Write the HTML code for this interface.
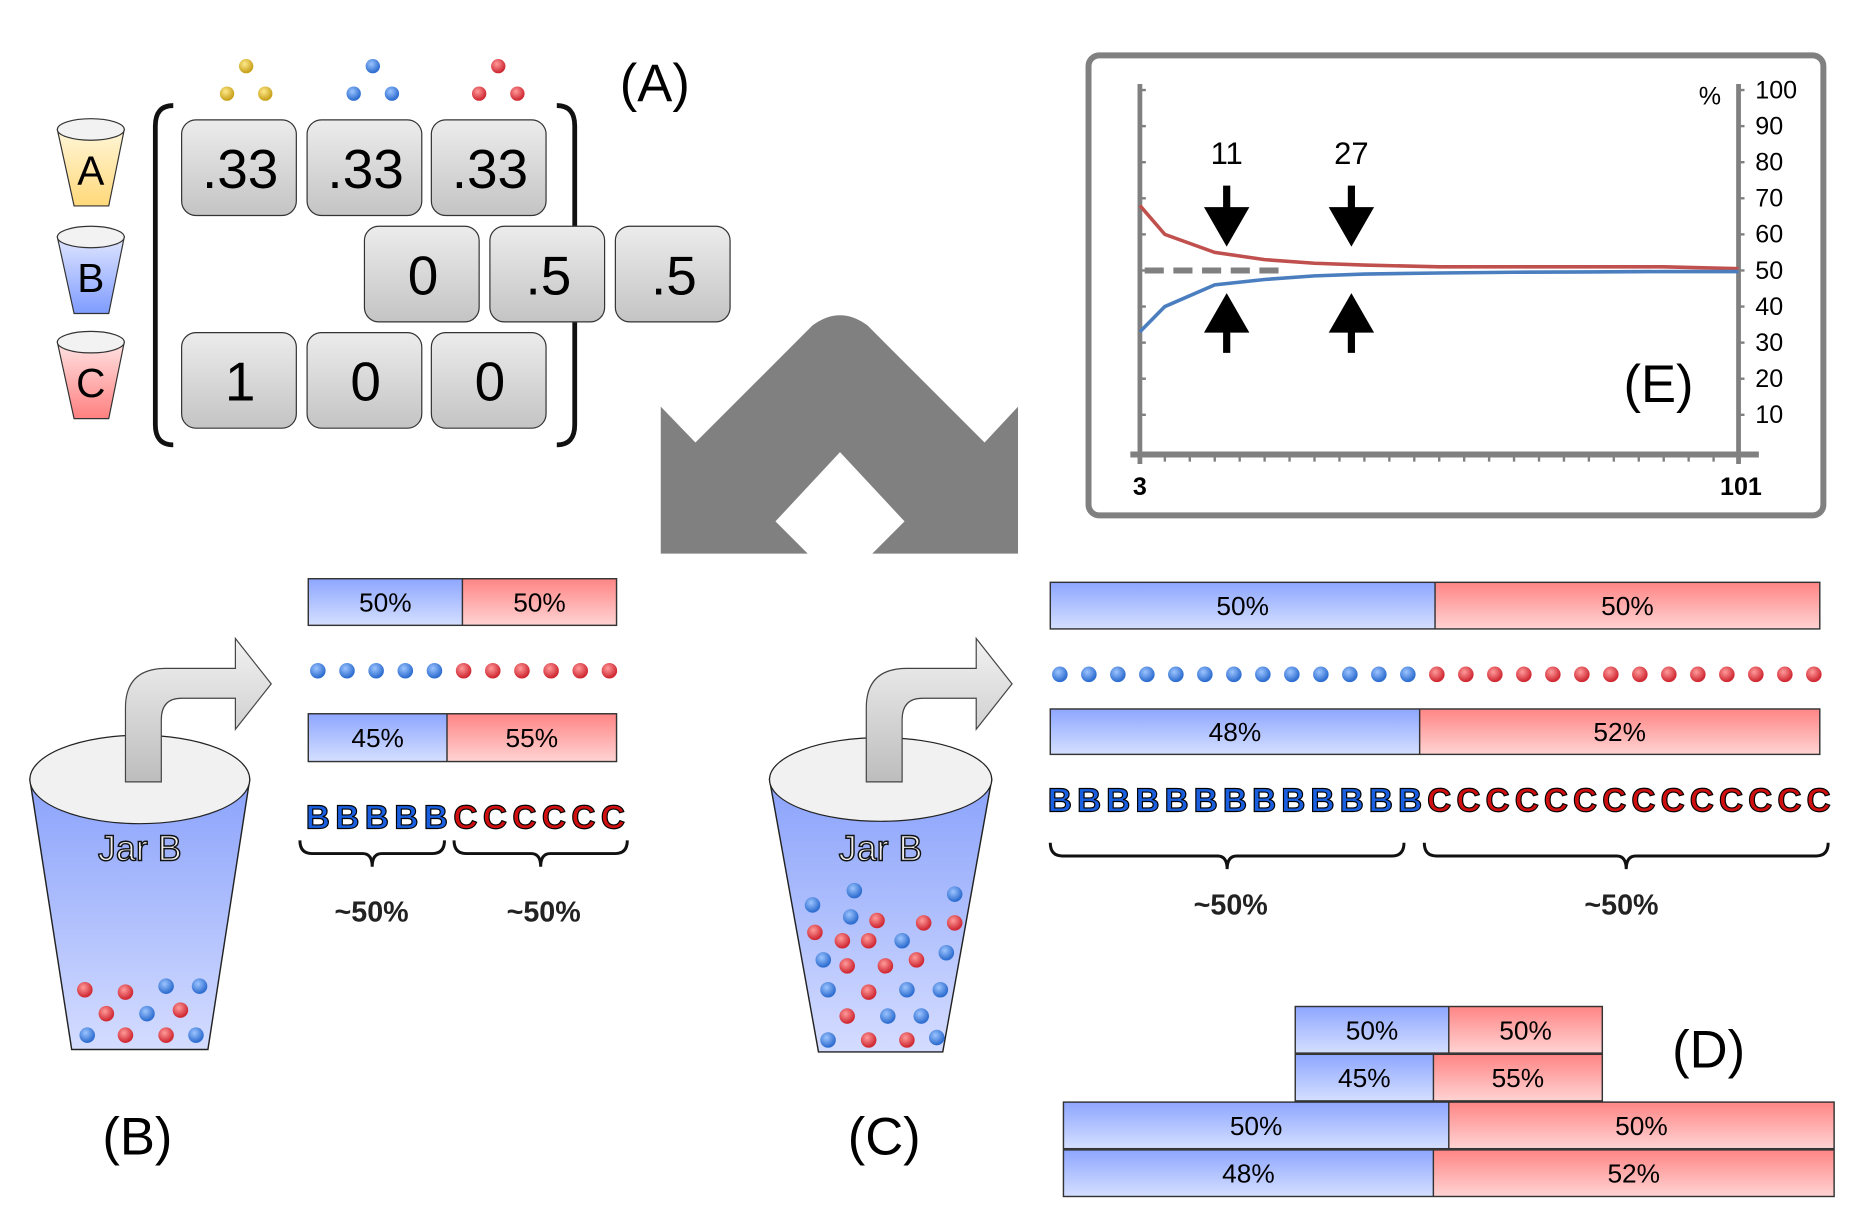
<!DOCTYPE html>
<html><head><meta charset="utf-8"><style>
html,body{margin:0;padding:0;background:#fff;}
svg{display:block;font-family:"Liberation Sans",sans-serif;}
</style></head><body>
<svg id="root" width="1864" height="1222" viewBox="0 0 1560 1022" xmlns="http://www.w3.org/2000/svg">
<defs>
<linearGradient id="gBlue" x1="0" y1="0" x2="0" y2="1"><stop offset="0" stop-color="#8ea6ff"/><stop offset="1" stop-color="#d4dfff"/></linearGradient>
<linearGradient id="gRed" x1="0" y1="0" x2="0" y2="1"><stop offset="0" stop-color="#ff8585"/><stop offset="1" stop-color="#ffd3d3"/></linearGradient>
<linearGradient id="gBox" x1="0" y1="0" x2="0" y2="1"><stop offset="0" stop-color="#ececec"/><stop offset="1" stop-color="#c4c4c4"/></linearGradient>
<linearGradient id="gJar" x1="0" y1="0" x2="0" y2="1"><stop offset="0" stop-color="#8aa2fb"/><stop offset="1" stop-color="#d4dcff"/></linearGradient>
<linearGradient id="gCupA" x1="0" y1="0" x2="0" y2="1"><stop offset="0" stop-color="#fff6d8"/><stop offset="1" stop-color="#ffd97a"/></linearGradient>
<linearGradient id="gCupB" x1="0" y1="0" x2="0" y2="1"><stop offset="0" stop-color="#e0e6ff"/><stop offset="1" stop-color="#7f9cff"/></linearGradient>
<linearGradient id="gCupC" x1="0" y1="0" x2="0" y2="1"><stop offset="0" stop-color="#ffe3e3"/><stop offset="1" stop-color="#ff8080"/></linearGradient>
<linearGradient id="gArrow" x1="0" y1="0" x2="0" y2="1"><stop offset="0" stop-color="#f2f2f2"/><stop offset="1" stop-color="#bdbdbd"/></linearGradient>
<radialGradient id="bBlue" cx="0.4" cy="0.35" r="0.6"><stop offset="0" stop-color="#9cc4ff"/><stop offset="1" stop-color="#2f6ed0"/></radialGradient>
<radialGradient id="bRed" cx="0.4" cy="0.35" r="0.6"><stop offset="0" stop-color="#ff9a9a"/><stop offset="1" stop-color="#d02a34"/></radialGradient>
<radialGradient id="bYel" cx="0.4" cy="0.35" r="0.6"><stop offset="0" stop-color="#ffe98a"/><stop offset="1" stop-color="#c9a21c"/></radialGradient>
</defs>

<g>
  <g>
    <path d="M48,108 L62,172 L91,172 L104,108 Z" fill="url(#gCupA)" stroke="#333" stroke-width="1"/>
    <ellipse cx="76" cy="108" rx="28" ry="9" fill="#f2f2f2" stroke="#333" stroke-width="1"/>
    <text x="76" y="154" font-size="34" text-anchor="middle">A</text>
  </g>
  <g>
    <path d="M48,198 L62,262 L91,262 L104,198 Z" fill="url(#gCupB)" stroke="#333" stroke-width="1"/>
    <ellipse cx="76" cy="198" rx="28" ry="9" fill="#f2f2f2" stroke="#333" stroke-width="1"/>
    <text x="76" y="244" font-size="34" text-anchor="middle">B</text>
  </g>
  <g>
    <path d="M48,286 L62,350 L91,350 L104,286 Z" fill="url(#gCupC)" stroke="#333" stroke-width="1"/>
    <ellipse cx="76" cy="286" rx="28" ry="9" fill="#f2f2f2" stroke="#333" stroke-width="1"/>
    <text x="76" y="332" font-size="34" text-anchor="middle">C</text>
  </g>
  <path d="M145,88 Q130,88 130,105 L130,355 Q130,372 145,372" fill="none" stroke="#111" stroke-width="4"/>
  <path d="M466,88 Q481,88 481,105 L481,355 Q481,372 466,372" fill="none" stroke="#111" stroke-width="4"/>
  <g id="matrix"></g>
  <g id="triplets"></g>
  <text x="548" y="84" font-size="44" text-anchor="middle">(A)</text>
</g>

<path d="M553,340 L582,370 L680,272 Q703,255 726,272 L824,370 L852,340 L852,463 L730,463 L757,436 L703,378 L649,436 L676,463 L553,463 Z" fill="#808080"/>

<g>
  <rect x="911" y="46" width="615" height="385" rx="9" fill="#fff" stroke="#808080" stroke-width="5"/>
  <g id="chart"></g>
  <text x="1388" y="336" font-size="44" text-anchor="middle">(E)</text>
</g>

<g id="panelB"></g>
<g id="panelC"></g>
<g id="panelD">
  <text x="1430" y="893" font-size="44" text-anchor="middle">(D)</text>
</g>
</svg>

<script>
const NS = "http://www.w3.org/2000/svg";
function mk(tag, attrs, parent) {
  const el = document.createElementNS(NS, tag);
  for (const k in attrs) el.setAttribute(k, attrs[k]);
  if (parent) parent.appendChild(el);
  return el;
}

// ---------- Chart E data ----------
const xTickCount = 24;
const xLabels = ["3", "101"];
const yTicks = [10, 20, 30, 40, 50, 60, 70, 80, 90, 100];
const pointIdx = [0, 1, 3, 5, 7, 9, 12, 15, 18, 21, 24];
const redSeries = [68, 60, 55, 53, 52, 51.5, 51, 51, 51, 51, 50.5];
const blueSeries = [33, 40, 46, 47.5, 48.5, 49, 49.3, 49.5, 49.6, 49.7, 49.7];
const markerIdx = [3, 8];
const markerLabels = ["11", "27"];
const refLevel = 50;

// ---------- Matrix data ----------
const matrixRows = [[".33", ".33", ".33"], ["0", ".5", ".5"], ["1", "0", "0"]];

// ---------- Bar data ----------
const barsB = [[50, 50], [45, 55]];
const barsC = [[50, 50], [48, 52]];
const barsD = [[50, 50], [45, 55], [50, 50], [48, 52]];
const ballsB = [5, 6];
const ballsC = [13, 14];

const X0 = 954, X1 = 1455, YB = 380;
const xs = i => X0 + (X1 - X0) * i / xTickCount;
const ys = v => 377 - v * 3.02;
const chart = document.getElementById('chart');
(function drawChart() {
  const la = mk('line', {x1: X0, y1: 70, x2: X0, y2: 388, stroke: '#808080', 'stroke-width': 4}, chart);
  
  
  const ra = mk('line', {x1: X1, y1: 70, x2: X1, y2: 388, stroke: '#808080', 'stroke-width': 4}, chart);
  
  
  const xa = mk('line', {x1: 946, y1: YB, x2: 1472, y2: YB, stroke: '#808080', 'stroke-width': 5}, chart);
  
  
  for (let i = 0; i <= xTickCount; i++) {
    const t = mk('line', {x1: xs(i), y1: YB, x2: xs(i), y2: YB + 6, stroke: '#808080', 'stroke-width': 2}, chart);
    
    
  }
  const xl0 = mk('text', {x: X0, y: 414, 'font-size': 21, 'font-weight': 'bold', 'text-anchor': 'middle'}, chart);
  xl0.textContent = xLabels[0];
  
  
  const xl1 = mk('text', {x: X1 + 2, y: 414, 'font-size': 21, 'font-weight': 'bold', 'text-anchor': 'middle'}, chart);
  xl1.textContent = xLabels[1];
  
  
  yTicks.forEach(v => {
    const y = ys(v);
    mk('line', {x1: X0, y1: y, x2: X0 + 5, y2: y, stroke: '#808080', 'stroke-width': 2}, chart);
    mk('line', {x1: X1, y1: y, x2: X1 + 5, y2: y, stroke: '#808080', 'stroke-width': 2}, chart);
    const t = mk('text', {x: 1469, y: y + 7, 'font-size': 21}, chart);
    t.textContent = v;
    
    
  });
  const pc = mk('text', {x: 1431, y: 87, 'font-size': 21, 'text-anchor': 'middle'}, chart);
  pc.textContent = '%';
  
  
  const ref = mk('line', {x1: X0 + 4, y1: ys(refLevel), x2: 1075, y2: ys(refLevel), stroke: '#808080', 'stroke-width': 5, 'stroke-dasharray': '16,8'}, chart);
  
  
  const rp = mk('polyline', {points: pointIdx.map((i, k) => xs(i) + ',' + ys(redSeries[k])).join(' '), fill: 'none', stroke: '#c0504d', 'stroke-width': 3}, chart);
  
  
  const bp = mk('polyline', {points: pointIdx.map((i, k) => xs(i) + ',' + ys(blueSeries[k])).join(' '), fill: 'none', stroke: '#4a7ebf', 'stroke-width': 3}, chart);
  
  
  markerIdx.forEach((i, k) => {
    const x = xs(i) + 10;
    const lab = mk('text', {x: x, y: 137, 'font-size': 26, 'text-anchor': 'middle'}, chart);
    lab.textContent = markerLabels[k];
    
    
    const dn = mk('path', {d: `M${x-3},155 h6 v18 h16 L${x},206 L${x-19},173 h16 Z`, fill: '#000'}, chart);
    
    
    const up = mk('path', {d: `M${x-3},295 h6 v-17 h16 L${x},245 L${x-19},278 h16 Z`, fill: '#000'}, chart);
    
    
  });
})();

(function () {
  const g = document.getElementById('matrix');
  const rowY = [100, 189, 278];
  const rowX = [[152, 257, 361], [305, 410, 515], [152, 257, 361]];
  matrixRows.forEach((row, r) => row.forEach((val, c) => {
    const x = rowX[r][c], y = rowY[r];
    const cell = mk('g', {}, g);
    
    
    mk('rect', {x: x, y: y, width: 96, height: 80, rx: 12, fill: 'url(#gBox)', stroke: '#333', 'stroke-width': 1}, cell);
    const t = mk('text', {x: x + 49, y: y + 57, 'font-size': 46, 'text-anchor': 'middle'}, cell);
    t.textContent = val;
  }));
  const tg = document.getElementById('triplets');
  [['bYel', 206], ['bBlue', 312], ['bRed', 417]].forEach(([f, cx]) => {
    [[cx, 55], [cx - 16, 78], [cx + 16, 78]].forEach(([x, y]) => {
      const b = mk('circle', {cx: x, cy: y, r: 6, fill: 'url(#' + f + ')'}, tg);
      
      
    });
  });
})();

function splitBar(parent, x, y, w, h, vals, fs, name) {
  const g = mk('g', {}, parent);
  
  
  const total = vals[0] + vals[1];
  const split = x + w * vals[0] / total;
  mk('rect', {x: x, y: y, width: split - x, height: h, fill: 'url(#gBlue)'}, g);
  mk('rect', {x: split, y: y, width: x + w - split, height: h, fill: 'url(#gRed)'}, g);
  mk('rect', {x: x, y: y, width: w, height: h, fill: 'none', stroke: '#333', 'stroke-width': 1.2}, g);
  mk('line', {x1: split, y1: y, x2: split, y2: y + h, stroke: '#333', 'stroke-width': 1.2}, g);
  const t1 = mk('text', {x: (x + split) / 2, y: y + h / 2 + fs * 0.36, 'font-size': fs, 'text-anchor': 'middle'}, g);
  t1.textContent = vals[0] + '%';
  const t2 = mk('text', {x: (split + x + w) / 2, y: y + h / 2 + fs * 0.36, 'font-size': fs, 'text-anchor': 'middle'}, g);
  t2.textContent = vals[1] + '%';
}

function ballRow(parent, x0, x1, y, nb, nr, r) {
  const g = mk('g', {}, parent);
  
  
  const n = nb + nr;
  for (let i = 0; i < n; i++) {
    const b = mk('circle', {cx: x0 + (x1 - x0) * i / (n - 1), cy: y, r: r, fill: i < nb ? 'url(#bBlue)' : 'url(#bRed)'}, g);
    
    
  }
}

function letters(parent, x0, x1, y, nb, nc, fs) {
  const g = mk('g', {}, parent);
  
  
  const n = nb + nc;
  for (let i = 0; i < n; i++) {
    const t = mk('text', {x: x0 + (x1 - x0) * i / (n - 1), y: y, 'font-size': fs, 'font-weight': 'bold', 'text-anchor': 'middle', fill: i < nb ? '#1a5fe0' : '#d01010', stroke: '#000', 'stroke-width': 1}, g);
    t.textContent = i < nb ? 'B' : 'C';
  }
}

function brace(parent, x0, x1, y, h) {
  const m = (x0 + x1) / 2;
  const p = mk('path', {d: `M${x0},${y} Q${x0},${y + h * 0.5} ${x0 + 10},${y + h * 0.5} L${m - 8},${y + h * 0.5} Q${m},${y + h * 0.5} ${m},${y + h} Q${m},${y + h * 0.5} ${m + 8},${y + h * 0.5} L${x1 - 10},${y + h * 0.5} Q${x1},${y + h * 0.5} ${x1},${y}`, fill: 'none', stroke: '#111', 'stroke-width': 2.5}, parent);
  
  
}

function approx(parent, x, y, fs) {
  const t = mk('text', {x: x, y: y, 'font-size': fs, 'font-weight': 'bold', 'text-anchor': 'middle', fill: '#222'}, parent);
  t.textContent = '~50%';
  
  
}

function jar(parent, cx, topY, rx, ry, botY, botHalf, balls) {
  const g = mk('g', {}, parent);
  
  
  mk('path', {d: `M${cx - rx},${topY} L${cx - botHalf},${botY} L${cx + botHalf},${botY} L${cx + rx},${topY} Z`, fill: 'url(#gJar)', stroke: '#222', 'stroke-width': 1.2}, g);
  mk('ellipse', {cx: cx, cy: topY, rx: rx, ry: ry, fill: '#f1f1f1', stroke: '#222', 'stroke-width': 1}, g);
  const t = mk('text', {x: cx, y: topY + 68, 'font-size': 30, 'text-anchor': 'middle', fill: '#eee', stroke: '#111', 'stroke-width': 1.2}, g);
  t.textContent = 'Jar B';
  balls.forEach(([x, y, c]) => {
    const b = mk('circle', {cx: cx + x, cy: y, r: 6.5, fill: c === 'b' ? 'url(#bBlue)' : 'url(#bRed)'}, g);
    
    
  });
  const a = mk('path', {d: `M${cx - 12},${topY + 2} L${cx - 12},${topY - 60} Q${cx - 12},${topY - 93} ${cx + 22},${topY - 93} L${cx + 80},${topY - 93} L${cx + 80},${topY - 118} L${cx + 110},${topY - 80} L${cx + 80},${topY - 42} L${cx + 80},${topY - 68} L${cx + 35},${topY - 68} Q${cx + 18},${topY - 68} ${cx + 18},${topY - 50} L${cx + 18},${topY + 2} Z`, fill: 'url(#gArrow)', stroke: '#444', 'stroke-width': 1}, g);
  
  
}

(function () {
  const p = document.getElementById('panelB');
  jar(p, 117, 652, 92, 37, 878, 57, [[-46, 828, 'r'], [-12, 830, 'r'], [22, 825, 'b'], [50, 825, 'b'], [-28, 848, 'r'], [6, 848, 'b'], [34, 845, 'r'], [-44, 866, 'b'], [-12, 866, 'r'], [22, 866, 'r'], [47, 866, 'b']]);
  splitBar(p, 258, 484, 258, 39, barsB[0], 22, 'bar-b-expected');
  ballRow(p, 266, 510, 561, ballsB[0], ballsB[1], 6.5);
  splitBar(p, 258, 597, 258, 40, barsB[1], 22, 'bar-b-observed');
  letters(p, 266, 513, 693, ballsB[0], ballsB[1], 28);
  brace(p, 251, 372, 703, 22);
  brace(p, 380, 525, 703, 22);
  approx(p, 311, 771, 24);
  approx(p, 455, 771, 24);
  const l = mk('text', {x: 115, y: 966, 'font-size': 44, 'text-anchor': 'middle'}, p);
  l.textContent = '(B)';
  
  
})();

(function () {
  const p = document.getElementById('panelC');
  jar(p, 737, 652, 93, 35, 880, 52, [[-57, 757, 'b'], [-25, 767, 'b'], [-3, 770, 'r'], [36, 772, 'r'], [62, 772, 'r'], [-55, 780, 'r'], [-32, 787, 'r'], [-10, 787, 'r'], [18, 787, 'b'], [62, 748, 'b'], [-48, 803, 'b'], [-28, 808, 'r'], [4, 808, 'r'], [30, 803, 'r'], [55, 797, 'b'], [-44, 828, 'b'], [-10, 830, 'r'], [22, 828, 'b'], [50, 828, 'b'], [-28, 850, 'r'], [6, 850, 'b'], [34, 850, 'b'], [-44, 870, 'b'], [-10, 870, 'r'], [22, 870, 'r'], [47, 868, 'b'], [-22, 745, 'b']]);
  splitBar(p, 879, 487, 644, 39, barsC[0], 22, 'bar-c-expected');
  ballRow(p, 887, 1518, 564, ballsC[0], ballsC[1], 6.5);
  splitBar(p, 879, 593, 644, 38, barsC[1], 22, 'bar-c-observed');
  letters(p, 887, 1522, 679, ballsC[0], ballsC[1], 28);
  brace(p, 879, 1175, 705, 22);
  brace(p, 1192, 1530, 705, 22);
  approx(p, 1030, 765, 24);
  approx(p, 1357, 765, 24);
  const l = mk('text', {x: 740, y: 966, 'font-size': 44, 'text-anchor': 'middle'}, p);
  l.textContent = '(C)';
  
  
})();

(function () {
  const p = document.getElementById('panelD');
  const geo = [[1084, 842, 257], [1084, 882, 257], [890, 922, 645], [890, 962, 645]];
  barsD.forEach((v, i) => splitBar(p, geo[i][0], geo[i][1], geo[i][2], 39, v, 22, 'bar-d-' + (i + 1)));
})();
</script>
</body></html>
